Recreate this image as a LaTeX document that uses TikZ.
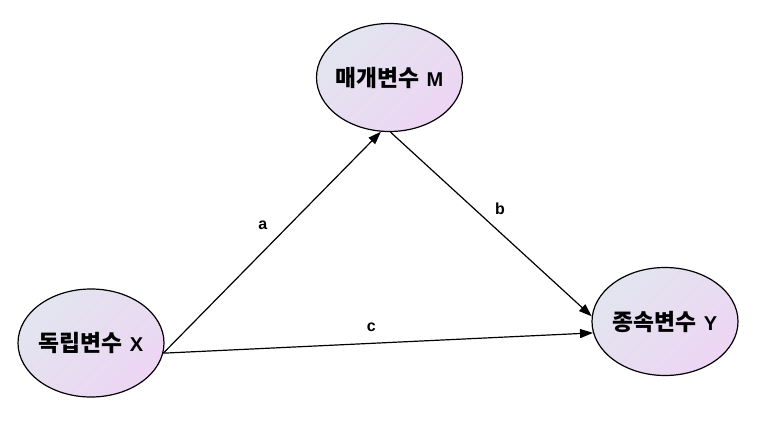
\documentclass[tikz,border=0pt]{standalone}
\usepackage{fontspec}
\setmainfont{Liberation Sans}
\newfontfamily\krfont[Scale=1.14]{Noto Sans CJK KR}
\usepackage{tikz}
\usetikzlibrary{arrows.meta, shapes.geometric, positioning}
\definecolor{nodeTop}{RGB}{226,229,239}
\definecolor{nodeBot}{RGB}{237,213,243}
\tikzset{
  >={Triangle[length=13bp,width=9bp]},  % punta piena
  % Nodi delle variabili
  var/.style={ellipse,draw=black,line width=1.2bp,top color=nodeTop,bottom color=nodeBot,
    shading angle=45,minimum width=146bp,minimum height=108bp,inner sep=0pt,
    font=\fontsize{20bp}{24bp}\selectfont\bfseries},
  % Connessioni
  connect arrow/.style={->,line width=1.2bp,black},
  lbl/.style={font=\fontsize{16bp}{18bp}\selectfont\bfseries,inner sep=0pt}
}
\newcommand{\varlabel}[2]{\makebox[0pt][c]{{\krfont #1}\hspace{0.35em}#2}}

\begin{document}
\begin{tikzpicture}[x=1bp,y=1bp]
    \useasboundingbox (0,0) rectangle (778,424);
    % variabili
    \node[var] (X) at (91,81) {\varlabel{독립변수}{X}};
    \node[var] (M) at (389.5,346.5) {\varlabel{매개변수}{M}};
    \node[var] (Y) at (665,102.5) {\varlabel{종속변수}{Y}};
    % percorsi
    \draw[connect arrow] (X.-8) -- (M.261) node[lbl,pos=0.577,xshift=-26bp]{a};
    \draw[connect arrow] (M.-89) -- (Y.176) node[lbl,pos=0.415,xshift=26bp]{b};
    \draw[connect arrow] (X.-8) -- (Y.189) node[lbl,pos=0.484,yshift=16bp]{c};
  \end{tikzpicture}
\end{document}
